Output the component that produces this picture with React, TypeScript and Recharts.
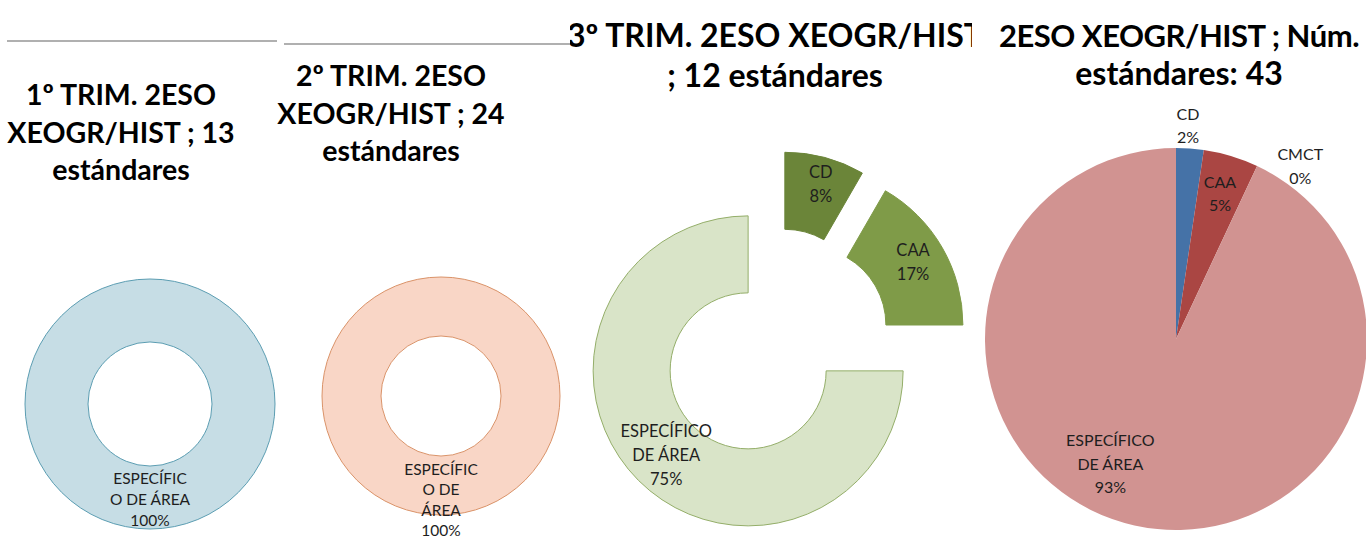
import React from 'react';
import { PieChart, Pie, Cell, Sector } from 'recharts';

// data
const trim1Names = ['ESPECÍFICO DE ÁREA'];
const trim1Values = [13];
const trim1LabelLines = [['ESPECÍFIC', 'O DE ÁREA']];

const trim2Names = ['ESPECÍFICO DE ÁREA'];
const trim2Values = [24];
const trim2LabelLines = [['ESPECÍFIC', 'O DE', 'ÁREA']];

const trim3Names = ['CD', 'CAA', 'ESPECÍFICO DE ÁREA'];
const trim3Values = [1, 2, 9];
const trim3LabelLines = [['CD'], ['CAA'], ['ESPECÍFICO', 'DE ÁREA']];

const totalNames = ['CD', 'CAA', 'CMCT', 'ESPECÍFICO DE ÁREA'];
const totalValues = [1, 2, 0, 40];
const totalLabelLines = [['CD'], ['CAA'], ['CMCT'], ['ESPECÍFICO', 'DE ÁREA']];

const titles = [
  ['1º TRIM. 2ESO', 'XEOGR/HIST ; 13', 'estándares'],
  ['2º TRIM. 2ESO', 'XEOGR/HIST ; 24', 'estándares'],
  ['3º TRIM. 2ESO XEOGR/HIST', '; 12 estándares'],
  ['2ESO XEOGR/HIST ; Núm.', 'estándares: 43'],
];

const RADIAN = Math.PI / 180;
const FONT = 'Lato, "Open Sans", sans-serif';
const NO_MARGIN = { top: 0, right: 0, bottom: 0, left: 0 };

const toRows = (names: string[], values: number[]) =>
  names.map((name, i) => ({ name, value: values[i] }));

// sector pushed out along its bisector, like an exploded Excel pie
const makeShape = (explode: number) => (props: any) => {
  const { cx, cy, midAngle, startAngle, endAngle, innerRadius, outerRadius, fill, stroke, strokeWidth } = props;
  const dx = explode * Math.cos(RADIAN * midAngle);
  const dy = -explode * Math.sin(RADIAN * midAngle);
  if (Math.abs(endAngle - startAngle) >= 359.9) {
    // full ring: two circles, no seam
    const ring = (r: number) =>
      r > 0 ? `M${cx + r},${cy} A${r},${r} 0 1 0 ${cx - r},${cy} A${r},${r} 0 1 0 ${cx + r},${cy} Z ` : '';
    return (
      <path
        d={ring(outerRadius) + ring(innerRadius)}
        fill={fill}
        fillRule="evenodd"
        stroke={stroke}
        strokeWidth={strokeWidth}
      />
    );
  }
  return <Sector {...props} cx={cx + dx} cy={cy + dy} />;
};

type LabelSpec = { pos: number; angle: number };

const makeLabel =
  (lines: string[][], specs: LabelSpec[], explode: number, fontSize: number, lineHeight: number) =>
  (props: any) => {
    const { cx, cy, midAngle, innerRadius, outerRadius, percent, index } = props;
    const spec = specs[index];
    const ox = cx + explode * Math.cos(RADIAN * midAngle);
    const oy = cy - explode * Math.sin(RADIAN * midAngle);
    const a = RADIAN * (midAngle + spec.angle);
    const r = innerRadius + spec.pos * (outerRadius - innerRadius);
    const x = ox + r * Math.cos(a);
    const y = oy - r * Math.sin(a);
    const all = [...lines[index], `${Math.round(percent * 100)}%`];
    return (
      <text
        x={x}
        y={y - ((all.length - 1) * lineHeight) / 2}
        textAnchor="middle"
        dominantBaseline="central"
        fontFamily={FONT}
        fontSize={fontSize}
        fill="#1e1e1e"
      >
        {all.map((l, i) => (
          <tspan key={i} x={x} dy={i === 0 ? 0 : lineHeight}>
            {l}
          </tspan>
        ))}
      </text>
    );
  };

const titleStyle: React.CSSProperties = {
  position: 'absolute',
  transform: 'translateX(-50%)',
  textAlign: 'center',
  whiteSpace: 'nowrap',
  fontFamily: FONT,
  fontWeight: 700,
  fontSize: 28.5,
  lineHeight: '37.5px',
  color: '#000',
};

const bigTitle: React.CSSProperties = { ...titleStyle, fontSize: 32 };

export default function App() {
  return (
    <div style={{ position: 'absolute', left: 0, top: 0, width: 1366, height: 539, background: '#fff', overflow: 'hidden' }}>
      <div style={{ position: 'absolute', left: 7, top: 40, width: 270, height: 2, background: '#b0b0b0' }} />
      <div style={{ position: 'absolute', left: 284, top: 43, width: 286, height: 2, background: '#b0b0b0' }} />

      <PieChart width={1366} height={539} margin={NO_MARGIN} style={{ position: 'absolute', left: 0, top: 0 }}>
        <Pie
          data={toRows(trim1Names, trim1Values)}
          dataKey="value"
          cx={150}
          cy={404}
          innerRadius={62}
          outerRadius={125}
          startAngle={90}
          endAngle={-270}
          shape={makeShape(0)}
          label={makeLabel(trim1LabelLines, [{ pos: 0.52, angle: 0 }], 0, 15.5, 21)}
          labelLine={false}
          isAnimationActive={false}
        >
          <Cell fill="#c6dde5" stroke="#5b9db2" strokeWidth={1} />
        </Pie>
        <Pie
          data={toRows(trim2Names, trim2Values)}
          dataKey="value"
          cx={441}
          cy={396}
          innerRadius={60}
          outerRadius={119}
          startAngle={90}
          endAngle={-270}
          shape={makeShape(0)}
          label={makeLabel(trim2LabelLines, [{ pos: 0.74, angle: 0 }], 0, 15.5, 20.5)}
          labelLine={false}
          isAnimationActive={false}
        >
          <Cell fill="#f9d6c6" stroke="#da9369" strokeWidth={1} />
        </Pie>
        <Pie
          data={toRows(trim3Names, trim3Values)}
          dataKey="value"
          cx={775}
          cy={344}
          innerRadius={78}
          outerRadius={155}
          startAngle={90}
          endAngle={-270}
          shape={makeShape(38)}
          label={makeLabel(
            trim3LabelLines,
            [
              { pos: 0.65, angle: -1.3 },
              { pos: 0.58, angle: 1 },
              { pos: 0.51, angle: 0.7 },
            ],
            38,
            16.5,
            24,
          )}
          labelLine={false}
          isAnimationActive={false}
        >
          <Cell fill="#6b8539" stroke="#6b8539" strokeWidth={1} />
          <Cell fill="#7f9b48" stroke="#7f9b48" strokeWidth={1} />
          <Cell fill="#d9e4c8" stroke="#94ae69" strokeWidth={1} />
        </Pie>
        <Pie
          data={toRows(totalNames, totalValues)}
          dataKey="value"
          cx={1176}
          cy={339}
          innerRadius={0}
          outerRadius={191}
          startAngle={90}
          endAngle={-270}
          shape={makeShape(0)}
          label={makeLabel(
            totalLabelLines,
            [
              { pos: 1.126, angle: 1 },
              { pos: 0.8, angle: 0 },
              { pos: 1.12, angle: -10.4 },
              { pos: 0.733, angle: -15.4 },
            ],
            0,
            16,
            23.5,
          )}
          labelLine={false}
          isAnimationActive={false}
        >
          <Cell fill="#4572a7" stroke="none" />
          <Cell fill="#aa4643" stroke="none" />
          <Cell fill="#89a54e" stroke="none" />
          <Cell fill="#d19391" stroke="none" />
        </Pie>
      </PieChart>

      <div style={{ ...titleStyle, left: 121, top: 76 }}>
        {titles[0].map((t, i) => (
          <div key={i}>{t}</div>
        ))}
      </div>
      <div style={{ ...titleStyle, left: 391, top: 57 }}>
        {titles[1].map((t, i) => (
          <div key={i}>{t}</div>
        ))}
      </div>
      <div style={{ position: 'absolute', left: 570, top: 0, width: 402, height: 100, overflow: 'hidden' }}>
        <div style={{ ...bigTitle, left: 205, top: 15, lineHeight: '40px' }}>
          {titles[2].map((t, i) => (
            <div key={i}>{t}</div>
          ))}
        </div>
      </div>
      <div style={{ ...bigTitle, left: 1179, top: 16, lineHeight: '38px' }}>
        {titles[3].map((t, i) => (
          <div key={i} style={i === 0 ? { fontSize: 31, letterSpacing: -0.5 } : undefined}>
            {t}
          </div>
        ))}
      </div>
    </div>
  );
}
